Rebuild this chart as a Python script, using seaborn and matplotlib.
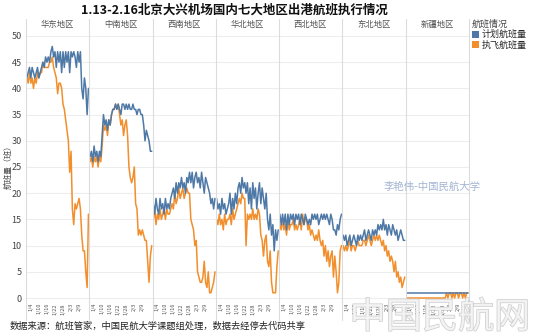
import numpy as np
import pandas as pd
import matplotlib
matplotlib.use("Agg")
import matplotlib.pyplot as plt
import seaborn as sns
from matplotlib.lines import Line2D
from matplotlib.patches import Patch
import matplotlib.patheffects as pe

# ---------------- data ----------------
regions = ["华东地区", "中南地区", "西南地区", "华北地区", "西北地区", "东北地区", "新疆地区"]
series_names = ["计划航班量", "执飞航班量"]
dates = pd.date_range("2021-01-01", periods=47)
tick_days = [3, 9, 15, 21, 27, 33, 39]
tick_labels = ["1/4", "1/10", "1/16", "1/22", "1/28", "2/3", "2/9"]

plan_huadong = [42,43,44,42,44,43,42,43,44,42,43, 44,45,44,46, 45,46,45,47,48,46,
                47,44,47,45,47,43,47,44,47,45,47,43,47,46,47,
                46,44,47,45,47,40,38,42,40,35,40]
exec_huadong = [42,41,43,41,42,40,42,41,43,42,43,43,45,44,44,44,44,45,45,46,
                44,43,42,39,41,41,40,37,36,34,32,30,24,28,17,14,18,17,18,19,17,12,9,9,5,2,16]

plan_zhongnan = [27,28,26,29,27,28,26,28,27, 31,35,33,34,32,34,33,35,
                 36,36,37,36,37,36,35,37,37,36,37,36,37,36,36,37,36,36,35,36,36,
                 35,35,33,30,32,31,30,28,28]
exec_zhongnan = [26,27,25,27,26,27,25,27,26, 29,33,32,33,31,34,33,35,36,36,37,36,37,
                 35,33,34,31,33,34,31,25,23,22,23,25,18,17,12,13,12,13,12,11,11,7,3,8,10]

plan_xinan = [18,16,19,17,16,19,17,18,16,19,17,18,17,19,
              20,21,19,22,20,22,21,23,21,22,20,23,22,
              24,22,24,21,23,24,22,23,21,24,22,20,23,
              22,21,20,18,19,17,19]
exec_xinan = [15,17,14,16,15,17,15,16,17,15,17,16,16,17,
              18,17,20,18,19,21,19,20,21,19,20,21,20,
              20,15,14,13,10,11,5,4,3,3,4,7,3,2,5,1,1,2,3,5]

plan_huabei = [19,17,18,16,19,17,18,16,17,18, 20,16,19,17,20,18,21, 22,20,23,21,22,20,
               22,18,21,17,22,19,21,17,20,22,18,21,19,17,20, 15,13,16,12,14,9,13,11,13]
exec_huabei = [15,14,16,14,15,13,16,14,15,15, 16,14,17,15,16,17,18, 19,18,20,19,19,10,
               16,15,16,15,17,15,16,15,17,16,12, 11,8,11,12,7,6,9,3,1,1,1,6,9]

plan_xibei = [16,14,16,14,16,13,16,14,16,15,16,14,16,15,16,14,16,15,14,16,
              15,14,15,14,16,15,16,15,16,14,15,16,15,16,15,16,15,
              14,16,15,13,13,12,14,13,15,16]
exec_xibei = [14,13,15,13,14,12,15,13,14,14,15,13,14,13,14,15,13,16,14,15,
              15,13,14,12,13,12,11,12,11,13,11,
              10,11,8,10,7,9,6,8,9,4,8,5,1,3,9,10]

plan_dongbei = [12,11,12,10,11,12,10,11,12,11,10,12,11,12,
                11,12,13,11,12,13,12,11,13,12,13,12,14,13,
                14,13,15,13,14,12,14,13,12,14,13,
                12,13,11,12,13,12,11,11]
exec_dongbei = [10,9,10,9,10,11,9,10,10,9,10,11,10,10,
                10,11,11,10,11,12,11,10,11,12,11,12,11,12,
                11,10,11,9,10,8,9,7,8,7,5,
                7,4,5,3,4,2,3,4]

plan_xinjiang = [1] * 47
exec_xinjiang = [0] * 30 + [1,0,1,1,0,1,0,1,1,0,1,1,0,1,0,1,1]

plan_all = [plan_huadong, plan_zhongnan, plan_xinan, plan_huabei, plan_xibei, plan_dongbei, plan_xinjiang]
exec_all = [exec_huadong, exec_zhongnan, exec_xinan, exec_huabei, exec_xibei, exec_dongbei, exec_xinjiang]

rows = []
for reg, p, e in zip(regions, plan_all, exec_all):
    for d in range(len(dates)):
        rows.append((reg, d, series_names[0], p[d]))
        rows.append((reg, d, series_names[1], e[d]))
df = pd.DataFrame(rows, columns=["region", "day", "series", "value"])

# ---------------- style ----------------
sns.set_theme(style="white")
plt.rcParams["font.family"] = ["Noto Sans CJK SC", "DejaVu Sans"]
palette = {series_names[0]: "#4e79a7", series_names[1]: "#f28e2b"}

W, H = 535, 336
fig = plt.figure(figsize=(W / 100, H / 100), dpi=100)
left0, fw, top, bottom = 26.0, 63.26, 31.0, 301.0

for i, reg in enumerate(regions):
    ax = fig.add_axes([(left0 + i * fw) / W, 1 - bottom / H, fw / W, (bottom - top) / H])
    sub = df[df["region"] == reg]
    sns.lineplot(data=sub, x="day", y="value", hue="series", palette=palette,
                 hue_order=series_names[::-1], ax=ax, legend=False, linewidth=1.1)
    ax.set_xlim(-0.6, 46.6)
    ax.set_ylim(-0.57, 50.95)
    ax.set_yticks(range(0, 51, 5))
    ax.yaxis.grid(True, color="#ededed", linewidth=0.8)
    ax.set_axisbelow(True)
    for s in ax.spines.values():
        s.set_visible(False)
    ax.set_xticks(tick_days)
    ax.set_xticklabels(tick_labels, rotation=90, fontsize=4, color="#555555")
    ax.tick_params(axis="both", length=0, pad=1.5)
    ax.set_xlabel("")
    ax.set_ylabel("")
    if i == 0:
        ax.tick_params(axis="y", labelsize=6.5, labelcolor="#444444", pad=3)
    else:
        ax.set_yticklabels([])
    fig.text((left0 + (i + 0.5) * fw) / W, 1 - 24 / H, reg, ha="center", va="center",
             fontsize=6, color="#555555")

for i in range(8):
    x = (left0 + i * fw) / W
    fig.add_artist(Line2D([x, x], [1 - 19 / H, 1 - 320 / H], color="#dcdcdc", linewidth=0.8))

fig.text(234 / W, 1 - 10 / H, "1.13-2.16北京大兴机场国内七大地区出港航班执行情况",
         ha="center", va="center", fontsize=9, fontweight="bold", color="#111111")
fig.text(8 / W, 1 - 165 / H, "航班量（班）", rotation=90, ha="center", va="center",
         fontsize=5.8, color="#444444")
fig.text(10 / W, 1 - 326 / H, "数据来源：航班管家，中国民航大学课题组处理，数据去经停去代码共享",
         ha="left", va="center", fontsize=6.7, color="#222222")
fig.text(432 / W, 1 - 187 / H, "李艳伟-中国民航大学", ha="center", va="center",
         fontsize=7.5, color="#a3b4d2")
fig.text(440 / W, 1 - 318 / H, "中国民航网", ha="center", va="center", fontsize=26,
         color="#f4f4f4", alpha=0.9,
         path_effects=[pe.Stroke(linewidth=1.0, foreground="#c9c9c9"), pe.Normal()])

handles = [Patch(facecolor=palette[s], edgecolor="none") for s in series_names]
leg = fig.legend(handles, series_names, title="航班情况", loc="upper left",
                 bbox_to_anchor=(472 / W, 1 - 20 / H), frameon=False, fontsize=6.5,
                 title_fontsize=6.5, handlelength=0.8, handleheight=0.8, handletextpad=0.3,
                 labelspacing=0.1, borderpad=0, borderaxespad=0, alignment="left")
leg.get_title().set_color("#444444")

fig.savefig("out.png", dpi=100)
